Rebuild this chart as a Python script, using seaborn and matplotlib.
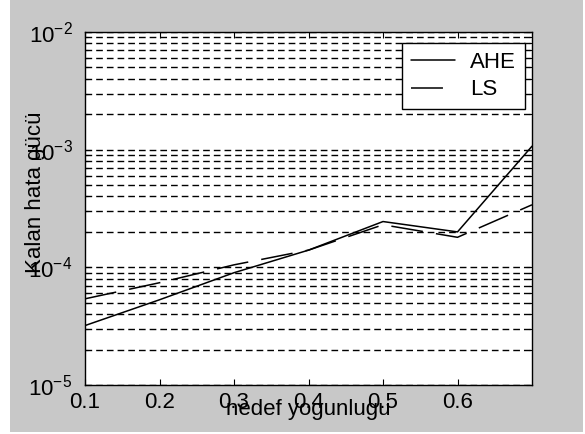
import matplotlib
matplotlib.use("Agg")
import matplotlib.pyplot as plt
import matplotlib.ticker as mticker
from matplotlib.patches import Rectangle
import numpy as np
import pandas as pd
import seaborn as sns

# ---- data ----
densities = [0.1, 0.2, 0.3, 0.4, 0.5, 0.6, 0.7]
ahe_values = [3.2e-5, 5.3e-5, 9.0e-5, 1.4e-4, 2.45e-4, 2.0e-4, 1.07e-3]
ls_values = [5.4e-5, 7.4e-5, 1.05e-4, 1.4e-4, 2.3e-4, 1.8e-4, 3.4e-4]
series_names = ["AHE", "LS"]
x_ticks = [0.1, 0.2, 0.3, 0.4, 0.5, 0.6]
x_tick_labels = ["0.1", "0.2", "0.3", "0.4", "0.5", "0.6"]
y_ticks = [1e-5, 1e-4, 1e-3, 1e-2]
y_tick_labels = ["$10^{-5}$", "$10^{-4}$", "$10^{-3}$", "$10^{-2}$"]
x_label = "nedef yogunlugu"
y_label = "Kalan hata gücü"

sns.set_style("ticks")
plt.rcParams["font.family"] = ["Liberation Sans", "DejaVu Sans"]
plt.rcParams["mathtext.fontset"] = "custom"
plt.rcParams["mathtext.rm"] = "Liberation Sans"
plt.rcParams["mathtext.it"] = "Liberation Sans:italic"
plt.rcParams["mathtext.default"] = "regular"
plt.rcParams["lines.scale_dashes"] = False
for k in ["text.color", "axes.labelcolor", "xtick.color", "ytick.color",
          "xtick.labelcolor", "ytick.labelcolor"]:
    plt.rcParams[k] = "black"

FS = 16
fig = plt.figure(figsize=(5.85, 4.34), dpi=100, facecolor="white")
fig.patches.append(Rectangle((10 / 585, 2 / 434), 573 / 585, 432 / 434,
                             transform=fig.transFigure, facecolor="#c8c8c8",
                             edgecolor="none", zorder=-10))
ax = fig.add_axes([85 / 585, 1 - 385 / 434, 447 / 585, 353 / 434])
ax.set_facecolor("white")

df = pd.DataFrame({"x": densities, "AHE": ahe_values, "LS": ls_values})
sns.lineplot(data=df, x="x", y="AHE", ax=ax, color="black", linewidth=1.1,
             linestyle="-", label=series_names[0], zorder=3)
sns.lineplot(data=df, x="x", y="LS", ax=ax, color="black", linewidth=1.1,
             linestyle=(0, (23, 9.5)), label=series_names[1], zorder=3)

ax.set_yscale("log")
ax.set_xlim(0.1, 0.7)
ax.set_ylim(1e-5, 1e-2)
ax.set_xticks(x_ticks)
ax.set_xticklabels(x_tick_labels, fontsize=FS)
ax.set_yticks(y_ticks)
ax.set_yticklabels(y_tick_labels, fontsize=FS)
ax.yaxis.set_minor_locator(mticker.LogLocator(base=10, subs=np.arange(2, 10)))
ax.yaxis.set_minor_formatter(mticker.NullFormatter())

ax.tick_params(which="both", direction="in", top=True, right=True,
               color="black", labelcolor="black", width=0.8)
ax.tick_params(which="major", length=4)
ax.tick_params(which="minor", length=2.5)
ax.tick_params(axis="x", which="major", pad=5)
ax.tick_params(axis="y", which="major", pad=9)

ax.grid(True, axis="y", which="both", color="black", linewidth=1.0,
        linestyle=(0, (4.8, 2.9)))
ax.grid(False, axis="x", which="both")
ax.set_axisbelow(True)

for s in ax.spines.values():
    s.set_color("black")
    s.set_linewidth(1.0)
    s.set_visible(True)

ax.set_xlabel(x_label, fontsize=FS, color="black")
ax.set_ylabel(y_label, fontsize=FS, color="black")
ax.xaxis.set_label_coords(0.5, -0.04)
ax.yaxis.set_label_coords(-0.088, 0.545)

leg = ax.legend(loc="upper right", bbox_to_anchor=(0.984, 0.969),
                borderaxespad=0, fontsize=FS, frameon=True, fancybox=False,
                handlelength=1.95, handletextpad=0.7, borderpad=0.4,
                labelspacing=0.3)
leg.get_frame().set_edgecolor("black")
leg.get_frame().set_linewidth(1.0)
leg.get_frame().set_facecolor("white")
leg.get_frame().set_alpha(1.0)
for t in leg.get_texts():
    t.set_color("black")

fig.savefig("out.png", dpi=100, facecolor=fig.get_facecolor())
